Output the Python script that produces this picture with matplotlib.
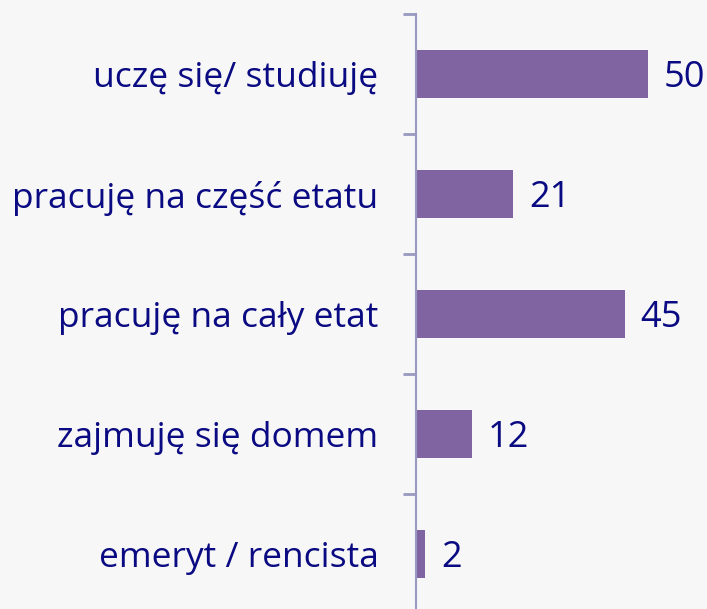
import matplotlib.pyplot as plt
import numpy as np

# Data (top to bottom)
categories = ['uczę się/ studiuję', 'pracuję na część etatu', 'pracuję na cały etat',
              'zajmuję się domem', 'emeryt / rencista']
values = [50, 21, 45, 12, 2]

bg = '#f7f7f7'
bar_color = '#8064a2'
text_color = '#0a0a82'
axis_color = '#9898c0'

W, H = 707, 609
fig = plt.figure(figsize=(W / 100, H / 100), dpi=100, facecolor=bg)
# axes: left at x=416px, top at y=14px, 120px per category
left, top, right = 416, 14, 700
bottom = top + 120 * len(categories)
ax = fig.add_axes([left / W, 1 - bottom / H, (right - left) / W, (bottom - top) / H])
ax.set_facecolor(bg)

y = np.arange(len(categories))
ax.barh(y, values, height=0.4, color=bar_color)
ax.set_ylim(len(categories) - 0.5, -0.5)
ax.set_xlim(0, (right - left) / 4.64)

for yi, v in zip(y, values):
    ax.text(v + 3.4, yi + 0.03, str(v), va='center', ha='left', fontsize=26,
            color=text_color, family='Open Sans')

ax.set_yticks(y)
ax.set_yticklabels(categories, fontsize=25.5, color=text_color, family='Open Sans')
ax.tick_params(axis='y', which='major', length=0, pad=27)
ax.set_yticks(np.arange(len(categories)) - 0.5, minor=True)
ax.tick_params(axis='y', which='minor', length=9.5, width=2, color=axis_color)

ax.set_xticks([])
for s in ['top', 'right', 'bottom']:
    ax.spines[s].set_visible(False)
ax.spines['left'].set_color(axis_color)
ax.spines['left'].set_linewidth(1.5)

fig.savefig('out.png', dpi=100, facecolor=bg)
